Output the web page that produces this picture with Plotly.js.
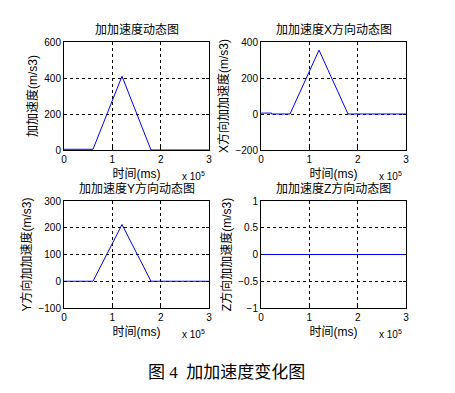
<!DOCTYPE html>
<html><head><meta charset="utf-8">
<script src="https://cdn.plot.ly/plotly-3.0.1.min.js"></script>
<style>html,body{margin:0;padding:0;background:#fff}</style>
</head><body><div id="chart" style="width:455px;height:393px"></div>
<script>
// time in units of 1e5 ms
const timeTotal = [0, 0.6, 1.2, 1.8, 3.0];
const jerkTotal = [4, 4, 410, 0, 0];
const timeX = [0, 0.22, 0.22, 0.6, 1.2, 1.8, 3.0];
const jerkX = [5, 5, 0, 0, 355, 0, 0];
const timeY = [0, 0.6, 1.2, 1.8, 3.0];
const jerkY = [0, 0, 212, 0, 0];
const timeZ = [0, 3.0];
const jerkZ = [0, 0];

const panelTitles = ['加加速度动态图', '加加速度X方向动态图', '加加速度Y方向动态图', '加加速度Z方向动态图'];
const yTitles = ['加加速度(m/s3)', 'X方向加加速度(m/s3)', 'Y方向加加速度(m/s3)', 'Z方向加加速度(m/s3)'];
const xTitle = '时间(ms)';
const yRanges = [[0, 600], [-200, 400], [-100, 300], [-1, 1]];
const yDticks = [200, 200, 100, 0.5];
const caption = '图 4  加加速度变化图';

const W = 455, H = 393;
const px = v => v / W, py = v => 1 - v / H;
const xDom = [[px(64), px(209)], [px(261), px(406)], [px(64), px(209)], [px(261), px(406)]];
const yDom = [[py(150), py(42)], [py(150), py(42)], [py(308), py(201)], [py(308), py(201)]];

const series = [[timeTotal, jerkTotal], [timeX, jerkX], [timeY, jerkY], [timeZ, jerkZ]];
const tickFont = {family: 'Liberation Sans, Arial, sans-serif', size: 10, color: '#000'};
const cjk = 'Liberation Sans, Noto Sans CJK SC, sans-serif';

const data = [], layout = {
  width: W, height: H, margin: {l: 0, r: 0, t: 0, b: 0},
  paper_bgcolor: '#fff', plot_bgcolor: '#fff', showlegend: false,
  font: {family: cjk, color: '#000'}, annotations: []
};
for (let i = 0; i < 4; i++) {
  const s = i === 0 ? '' : String(i + 1);
  data.push({x: series[i][0], y: series[i][1], type: 'scatter', mode: 'lines',
    line: {color: '#0000ff', width: 1}, xaxis: 'x' + s, yaxis: 'y' + s, hoverinfo: 'none'});
  layout['xaxis' + s] = {domain: xDom[i], anchor: 'y' + s, range: [0, 3], dtick: 1,
    showline: true, mirror: 'ticks', linecolor: '#000', linewidth: 1,
    ticks: 'inside', ticklen: 3, tickcolor: '#000', tickfont: tickFont,
    showgrid: true, gridcolor: '#000', griddash: '3px,3px', gridwidth: 1, zeroline: false,
    title: {text: xTitle, font: {family: cjk, size: 12, color: '#000'}, standoff: 5}};
  layout['yaxis' + s] = {domain: yDom[i], anchor: 'x' + s, range: yRanges[i], dtick: yDticks[i],
    showline: true, mirror: 'ticks', linecolor: '#000', linewidth: 1,
    ticks: 'inside', ticklen: 3, tickcolor: '#000', tickfont: tickFont,
    showgrid: true, gridcolor: '#000', griddash: '3px,3px', gridwidth: 1, zeroline: false,
    title: {text: yTitles[i], font: {family: cjk, size: 12, color: '#000'}, standoff: 4}};
  const cx = (xDom[i][0] + xDom[i][1]) / 2;
  layout.annotations.push({text: panelTitles[i], xref: 'paper', yref: 'paper', x: cx, y: yDom[i][1] + 3 / H,
    xanchor: 'center', yanchor: 'bottom', showarrow: false, font: {family: cjk, size: 12, color: '#000'}});
  layout.annotations.push({text: 'x 10<sup>5</sup>', xref: 'paper', yref: 'paper', x: xDom[i][1] - 2 / W, y: yDom[i][0] - 18 / H,
    xanchor: 'right', yanchor: 'top', showarrow: false, font: {family: 'Liberation Sans, Arial, sans-serif', size: 10, color: '#000'}});
}
layout.annotations.push({text: caption, xref: 'paper', yref: 'paper', x: px(226), y: py(372),
  xanchor: 'center', yanchor: 'middle', showarrow: false, font: {family: 'Liberation Serif, Noto Sans CJK SC, serif', size: 17, color: '#000'}});
Plotly.newPlot('chart', data, layout, {staticPlot: true});
</script></body></html>
